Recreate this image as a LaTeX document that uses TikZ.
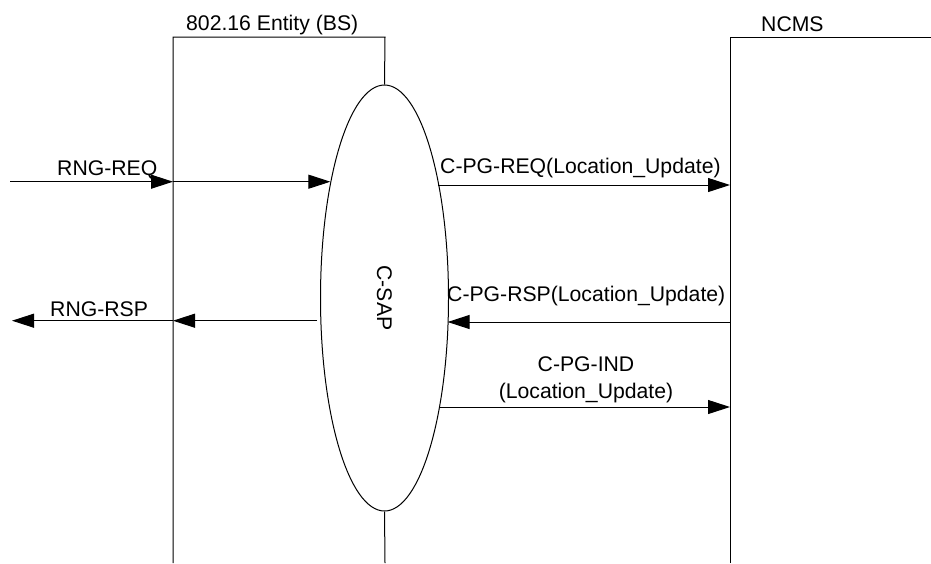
\documentclass[tikz,border=0pt]{standalone}
\usepackage{fontspec}
\setmainfont{Liberation Sans}
\usetikzlibrary{arrows.meta,shapes.geometric}
\begin{document}
\begin{tikzpicture}[x=1pt,y=-1pt,
  ln/.style={line width=1pt,black},
  msg/.style={line width=1pt,black,-{Triangle[length=22pt,width=14pt]}},
  lbl/.style={inner sep=0pt,font=\fontsize{21.2}{25}\selectfont},
  every node/.style={inner sep=0pt}]
\useasboundingbox (0,0) rectangle (931,563);
% entities
\coordinate (bsTL) at (173,37);
\coordinate (bsTR) at (385,37);
\coordinate (bsBL) at (173,563);
\coordinate (bsBR) at (385,563);
\coordinate (nTL) at (730,37);
\coordinate (nTR) at (931,37);
\coordinate (nBL) at (730,563);
\node[ellipse,draw,line width=1pt,minimum width=128pt,minimum height=426pt,inner sep=0pt] (sap) at (384.5,298) {};
\node[lbl,rotate=-90] (saplbl) at (384.5,298) {C-SAP};
\draw[ln] (bsBL) -- (bsTL) -- (bsTR) -- (sap.north);
\draw[ln] (sap.south) -- (bsBR);
\draw[ln] (nBL) -- (nTL) -- (nTR);
\node[lbl,anchor=base west] (bslbl) at (186,30.5) {802.16 Entity (BS)};
\node[lbl,anchor=base west] (nlbl) at (761,31) {NCMS};
% RNG-REQ
\coordinate (reqin) at (10,181.7);
\coordinate (reqbs) at (173,181.7);
\coordinate (reqe) at (330.4,181.7);
\draw[msg] (reqin) -- (reqbs);
\draw[msg] (reqbs) -- (reqe);
\node[lbl,anchor=base west] (reqlbl) at (57,175) {RNG-REQ};
% C-PG-REQ
\coordinate (preqe) at (438.3,185);
\coordinate (preqn) at (730,185);
\draw[msg] (preqe) -- (preqn);
\node[lbl,anchor=base west] (preqlbl) at (440,173) {C-PG-REQ(Location\_Update)};
% C-PG-RSP
\coordinate (prspn) at (730,322);
\coordinate (prspe) at (447.6,322);
\draw[msg] (prspn) -- (prspe);
\node[lbl,anchor=base west] (prsplbl) at (447,301.7) {C-PG-RSP(Location\_Update)};
% RNG-RSP
\coordinate (rspe) at (317,320.7);
\coordinate (rspbs) at (173,320.7);
\coordinate (rspout) at (12,320.7);
\draw[msg] (rspe) -- (rspbs);
\draw[msg] (rspbs) -- (rspout);
\node[lbl,anchor=base west] (rsplbl) at (50,316.7) {RNG-RSP};
% C-PG-IND
\coordinate (pinde) at (439,407);
\coordinate (pindn) at (730,407);
\draw[msg] (pinde) -- (pindn);
\node[lbl,anchor=base] (pindlbl1) at (586,371.7) {C-PG-IND};
\node[lbl,anchor=base] (pindlbl2) at (586,398) {(Location\_Update)};
\end{tikzpicture}
\end{document}
